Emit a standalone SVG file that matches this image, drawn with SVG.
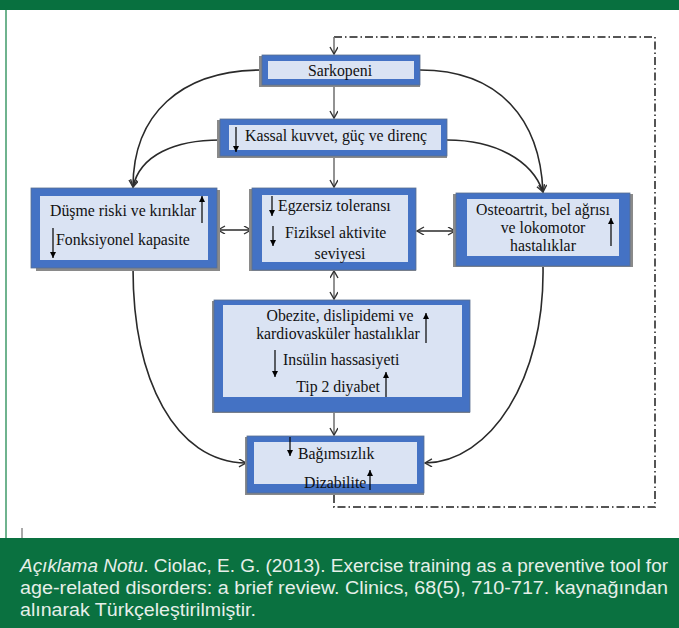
<svg xmlns="http://www.w3.org/2000/svg" width="679" height="628" viewBox="0 0 679 628">
<defs>
<marker id="open" markerWidth="10" markerHeight="10" refX="8" refY="4" orient="auto-start-reverse" markerUnits="userSpaceOnUse">
<path d="M1,0 L8,4 L1,8" fill="none" stroke="#333" stroke-width="1.4"/>
</marker>
<marker id="solid" markerWidth="8" markerHeight="8" refX="6" refY="3" orient="auto" markerUnits="userSpaceOnUse">
<path d="M0,0 L6,3 L0,6 Z" fill="#000"/>
</marker>
<style>
.outer{fill:#4472C4;stroke:#5b6f8f;stroke-width:0.8}
.shadow{fill:#8a8a8a}
.inner{fill:#DAE3F3}
.t{font-family:"Liberation Serif","Times New Roman",serif;font-size:15.8px;fill:#111}
.c{text-anchor:middle}
.con{fill:none;stroke:#2a2a2a;stroke-width:1.6}
.vcon{fill:none;stroke:#777;stroke-width:1.6}
.dash{fill:none;stroke:#555;stroke-width:2;stroke-dasharray:8 3 1.5 3}
.ia{stroke:#000;stroke-width:1.2;marker-end:url(#solid)}
.note{font-family:"Liberation Sans",Arial,sans-serif;font-size:17.5px;fill:#e6efe9}
</style>
</defs>
<rect x="0" y="0" width="679" height="628" fill="#fff"/>
<rect x="0" y="0" width="679" height="10" fill="#08703f"/>
<line x1="6" y1="10" x2="6" y2="538" stroke="#3f9a68" stroke-width="1.5"/>
<line x1="22" y1="528" x2="22" y2="538" stroke="#555" stroke-width="1"/>

<g id="connectors">
<polyline class="dash" points="334,37 655,37 655,507 334,507 334,493"/>
<line class="vcon" x1="334" y1="37" x2="334" y2="54" marker-end="url(#open)"/>
<line class="vcon" x1="334" y1="85" x2="334" y2="118" marker-end="url(#open)"/>
<line class="vcon" x1="334" y1="156" x2="334" y2="187" marker-end="url(#open)"/>
<line class="vcon" x1="334" y1="271" x2="334" y2="299" marker-start="url(#open)" marker-end="url(#open)"/>
<line class="vcon" x1="334" y1="412" x2="334" y2="435" marker-end="url(#open)"/>
<line class="con" x1="218" y1="230" x2="251" y2="230" stroke="#555" marker-start="url(#open)" marker-end="url(#open)"/>
<line class="con" x1="417" y1="231" x2="455" y2="231" stroke="#555" marker-start="url(#open)" marker-end="url(#open)"/>
<path class="con" d="M262,70 C180,70 133,115 133,187" marker-end="url(#open)"/>
<path class="con" d="M220,140 C175,140 140,155 133,187" marker-end="url(#open)"/>
<path class="con" d="M420,70 C500,70 540,120 543,192" marker-end="url(#open)"/>
<path class="con" d="M447,140 C495,140 532,160 543,192" marker-end="url(#open)"/>
<path class="con" d="M133,268 C133,380 175,462 246,463" marker-end="url(#open)"/>
<path class="con" d="M543,266 C545,380 490,462 425,463" marker-end="url(#open)"/>
</g>

<g id="sarkopeni">
<rect class="shadow" x="259" y="56" width="161" height="31"/>
<rect class="outer" x="262" y="55" width="158" height="30"/>
<rect class="inner" x="268" y="61" width="146" height="18"/>
<text class="t c" x="340" y="76">Sarkopeni</text>
</g>

<g id="kassal">
<rect class="shadow" x="217" y="120" width="230" height="38"/>
<rect class="outer" x="220" y="119" width="227" height="37"/>
<rect class="inner" x="229" y="125" width="212" height="25"/>
<line class="ia" x1="236" y1="127" x2="236" y2="152"/>
<text class="t" x="245" y="141">Kassal kuvvet, güç ve direnç</text>
</g>

<g id="dusme">
<rect class="shadow" x="36" y="190" width="184" height="81"/>
<rect class="outer" x="31" y="188" width="186" height="80"/>
<rect class="inner" x="40" y="196" width="168" height="64"/>
<text class="t" x="50" y="216">Düşme riski ve kırıklar</text>
<line class="ia" x1="202" y1="223" x2="202" y2="196"/>
<line class="ia" x1="53" y1="228" x2="53" y2="258"/>
<text class="t" x="56" y="245">Fonksiyonel kapasite</text>
</g>

<g id="egzersiz">
<rect class="shadow" x="249" y="189" width="167" height="82"/>
<rect class="outer" x="252" y="188" width="164" height="82"/>
<rect class="inner" x="262" y="195" width="146" height="67"/>
<line class="ia" x1="272" y1="196" x2="272" y2="216"/>
<text class="t" x="278" y="211">Egzersiz toleransı</text>
<line class="ia" x1="273" y1="226" x2="273" y2="246"/>
<text class="t" x="285" y="238">Fiziksel aktivite</text>
<text class="t c" x="340" y="259">seviyesi</text>
</g>

<g id="osteoartrit">
<rect class="shadow" x="453" y="194" width="180" height="73"/>
<rect class="outer" x="456" y="193" width="174" height="73"/>
<rect class="inner" x="467" y="199" width="152" height="57"/>
<text class="t c" x="543" y="215">Osteoartrit, bel ağrısı</text>
<text class="t c" x="543" y="233">ve lokomotor</text>
<text class="t c" x="543" y="251">hastalıklar</text>
<line class="ia" x1="611" y1="246" x2="611" y2="218"/>
</g>

<g id="obezite">
<rect class="shadow" x="212" y="301" width="258" height="112"/>
<rect class="outer" x="214" y="300" width="256" height="112"/>
<rect class="inner" x="223" y="305" width="239" height="92"/>
<text class="t c" x="340" y="321">Obezite, dislipidemi ve</text>
<text class="t c" x="338" y="339">kardiovasküler hastalıklar</text>
<line class="ia" x1="426" y1="343" x2="426" y2="313"/>
<line class="ia" x1="275" y1="350" x2="275" y2="377"/>
<text class="t" x="283" y="365">Insülin hassasiyeti</text>
<text class="t c" x="338" y="392">Tip 2 diyabet</text>
<line class="ia" x1="386" y1="397" x2="386" y2="372"/>
</g>

<g id="bagimsizlik">
<rect class="shadow" x="245" y="437" width="179" height="58"/>
<rect class="outer" x="247" y="436" width="177" height="57"/>
<rect class="inner" x="254" y="442" width="163" height="42"/>
<line class="ia" x1="290" y1="437" x2="290" y2="456"/>
<text class="t" x="298" y="459">Bağımsızlık</text>
<text class="t" x="304" y="488">Dizabilite</text>
<line class="ia" x1="370" y1="490" x2="370" y2="470"/>
</g>

<g id="note">
<rect x="0" y="538" width="679" height="90" fill="#0a7140"/>
<text class="note" x="20" y="572" textLength="648" lengthAdjust="spacingAndGlyphs"><tspan font-style="italic">Açıklama Notu</tspan>. Ciolac, E. G. (2013). Exercise training as a preventive tool for</text>
<text class="note" x="20" y="594" textLength="648" lengthAdjust="spacingAndGlyphs">age-related disorders: a brief review. Clinics, 68(5), 710-717. kaynağından</text>
<text class="note" x="20" y="616" textLength="236" lengthAdjust="spacingAndGlyphs">alınarak Türkçeleştirilmiştir.</text>
</g>
</svg>
